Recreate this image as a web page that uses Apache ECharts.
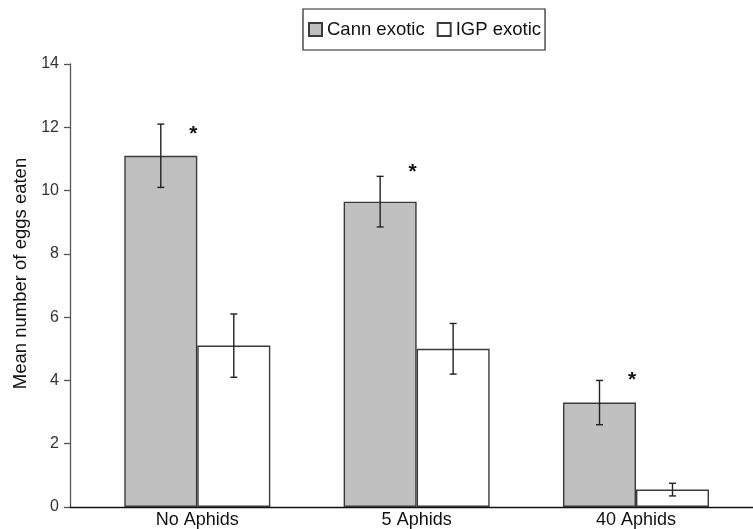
<!DOCTYPE html>
<html>
<head>
<meta charset="utf-8">
<script src="https://cdn.jsdelivr.net/npm/echarts@6/dist/echarts.min.js"></script>
<style>html,body{margin:0;padding:0;background:#fff}#c{width:753px;height:529px}</style>
</head>
<body>
<div id="c"></div>
<script>
var categories = ['No Aphids', '5 Aphids', '40 Aphids'];
var seriesNames = ['Cann exotic', 'IGP exotic'];
var cannMean = [11.1, 9.65, 3.3];
var cannErr = [1.0, 0.8, 0.7];
var igpMean = [5.1, 5.0, 0.55];
var igpErr = [1.0, 0.8, 0.2];
var starY = [11.95, 10.75, 4.15];
var yTicks = [0, 2, 4, 6, 8, 10, 12, 14];

var FONT = 'Liberation Sans, Arial, sans-serif';
var BAR_W = 73;

function pairs(arr) { return arr.map(function (v, i) { return [i, v]; }); }

function errSeries(means, errs, side) {
  return {
    type: 'custom',
    silent: true,
    z: 5,
    data: means.map(function (m, i) { return [i, m - errs[i], m + errs[i]]; }),
    renderItem: function (params, api) {
      var i = api.value(0);
      var lo = api.coord([i, api.value(1)]);
      var hi = api.coord([i, api.value(2)]);
      var x = lo[0] + side * BAR_W / 2;
      var cap = 3.5;
      var st = { stroke: '#222', lineWidth: 1.4 };
      return {
        type: 'group',
        children: [
          { type: 'line', shape: { x1: x, y1: hi[1], x2: x, y2: lo[1] }, style: st },
          { type: 'line', shape: { x1: x - cap, y1: hi[1], x2: x + cap, y2: hi[1] }, style: st },
          { type: 'line', shape: { x1: x - cap, y1: lo[1], x2: x + cap, y2: lo[1] }, style: st }
        ]
      };
    }
  };
}

var chart = echarts.init(document.getElementById('c'), null, { renderer: 'canvas' });
chart.setOption({
  animation: false,
  backgroundColor: '#fff',
  textStyle: { fontFamily: FONT },
  legend: {
    left: 303, top: 9,
    padding: [11, 4, 11, 5],
    itemGap: 12,
    itemWidth: 13, itemHeight: 13,
    borderColor: '#222', borderWidth: 1.2,
    icon: 'rect',
    textStyle: { fontSize: 18.5, color: '#111', fontFamily: FONT },
    data: seriesNames
  },
  grid: { left: 70, right: 0, top: 64, bottom: 21, containLabel: false },
  xAxis: {
    type: 'value',
    min: -0.5803, max: 2.5334,
    splitLine: { show: false },
    axisTick: { show: false },
    axisLine: { onZero: false, lineStyle: { color: '#111', width: 1.3 } },
    axisLabel: {
      customValues: [0, 1, 2],
      formatter: function (v) { return categories[Math.round(v)]; },
      fontSize: 18, color: '#111', margin: 4, fontFamily: FONT
    }
  },
  yAxis: {
    type: 'value',
    min: 0, max: 14, interval: 2,
    name: 'Mean number of eggs eaten',
    nameLocation: 'middle',
    nameGap: 40,
    nameTextStyle: { fontSize: 18.5, color: '#111', fontFamily: FONT, padding: [0, 0, 0, 24] },
    splitLine: { show: false },
    axisLine: { show: true, onZero: false, lineStyle: { color: '#555', width: 1.3 } },
    axisTick: { show: true, inside: false, length: 6, lineStyle: { color: '#555', width: 1.3 } },
    axisLabel: {
      customValues: yTicks,
      fontSize: 16, color: '#333', margin: 11, fontFamily: FONT
    }
  },
  series: [
    {
      name: seriesNames[0], type: 'bar',
      data: pairs(cannMean),
      barWidth: BAR_W, barGap: '0%',
      itemStyle: { color: '#c0c0c0', borderColor: '#3a3a3a', borderWidth: 1.4 }
    },
    {
      name: seriesNames[1], type: 'bar',
      data: pairs(igpMean),
      barWidth: BAR_W, barGap: '0%',
      itemStyle: { color: '#ffffff', borderColor: '#3a3a3a', borderWidth: 1.4 }
    },
    errSeries(cannMean, cannErr, -1),
    errSeries(igpMean, igpErr, 1),
    {
      type: 'custom',
      silent: true,
      z: 6,
      data: pairs(starY),
      renderItem: function (params, api) {
        var p = api.coord([api.value(0), api.value(1)]);
        return {
          type: 'text',
          x: p[0] - 4, y: p[1] + 5,
          style: {
            text: '*', fontSize: 21, fontWeight: 'bold', fontFamily: FONT,
            fill: '#111', align: 'center', verticalAlign: 'middle'
          }
        };
      }
    }
  ]
});
</script>
</body>
</html>
